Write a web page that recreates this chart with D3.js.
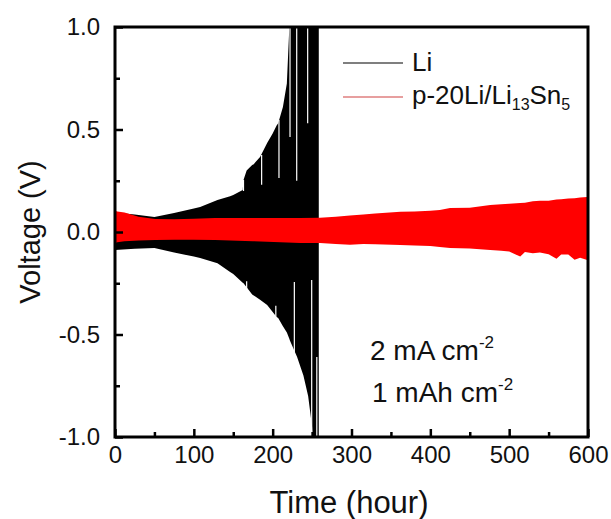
<!DOCTYPE html>
<html>
<head>
<meta charset="utf-8">
<script src="https://cdn.jsdelivr.net/npm/d3@7"></script>
<style>
  html, body { margin: 0; padding: 0; background: #fff; }
  svg { display: block; font-family: "Liberation Sans", Arial, sans-serif; }
</style>
</head>
<body>
<svg id="chart" width="611" height="519"></svg>
<script>
// ---------------- data ----------------
const xTicks = [0, 100, 200, 300, 400, 500, 600];
const xMinorTicks = [50, 150, 250, 350, 450, 550];
const yTicks = [-1.0, -0.5, 0.0, 0.5, 1.0];
const yMinorTicks = [-0.75, -0.25, 0.25, 0.75];

// Li symmetric cell: envelope of voltage oscillation (V) vs time (h)
const liTime  = [0, 25, 50, 75, 100, 108, 130, 146, 150, 162, 163, 167, 174, 176, 178, 184, 193, 200, 205, 207, 213, 218, 221, 222, 231, 239, 245, 250, 252, 258.5];
const liUpper = [0.095, 0.085, 0.073, 0.093, 0.115, 0.122, 0.156, 0.175, 0.18, 0.205, 0.254, 0.30, 0.327, 0.33, 0.34, 0.366, 0.434, 0.48, 0.52, 0.53, 0.61, 0.725, 0.985, 1.1, 1.1, 1.1, 1.1, 1.1, 1.1, 1.1];
const liLower = [-0.088, -0.082, -0.078, -0.10, -0.12, -0.127, -0.152, -0.195, -0.205, -0.247, -0.25, -0.27, -0.305, -0.31, -0.315, -0.33, -0.356, -0.39, -0.415, -0.42, -0.46, -0.49, -0.52, -0.53, -0.61, -0.70, -0.80, -0.95, -1.1, -1.1];
// gaps between Li cycles (time, from V, to V)
const liGapTime = [163, 186, 208, 222, 230.5, 244.4, 167, 204, 227.5, 249.5, 256];
const liGapFrom = [0.20, 0.23, 0.263, 0.463, 0.25, 0.53, -0.29, -0.43, -0.688, -1.05, -1.05];
const liGapTo   = [0.254, 0.376, 0.546, 1.05, 1.05, 1.05, -0.24, -0.36, -0.244, -0.234, -0.61];

// p-20Li/Li13Sn5 cell envelope
const pTime  = [0, 3, 12, 30, 51, 75, 100, 127, 175, 235, 260, 280, 298, 315, 330, 362, 380, 400, 412, 425, 450, 476, 490, 500, 514, 520, 530, 539, 550, 560, 566, 575, 583, 590, 599];
const pUpper = [0.104, 0.10, 0.095, 0.075, 0.063, 0.062, 0.065, 0.068, 0.068, 0.068, 0.070, 0.074, 0.080, 0.085, 0.090, 0.099, 0.100, 0.104, 0.107, 0.117, 0.118, 0.132, 0.135, 0.138, 0.141, 0.143, 0.150, 0.153, 0.152, 0.158, 0.160, 0.163, 0.165, 0.168, 0.171];
const pLower = [-0.054, -0.05, -0.045, -0.042, -0.039, -0.038, -0.038, -0.039, -0.045, -0.054, -0.054, -0.058, -0.062, -0.058, -0.06, -0.063, -0.066, -0.068, -0.073, -0.078, -0.08, -0.088, -0.092, -0.095, -0.12, -0.098, -0.104, -0.10, -0.108, -0.13, -0.11, -0.11, -0.135, -0.125, -0.137];

const seriesNames = ["Li", "p-20Li/Li13Sn5"];
const seriesColors = ["#000000", "#ff0000"];

// ---------------- layout ----------------
const svg = d3.select("#chart");
const L = 115, R = 588, T = 27, B = 437;
const x = d3.scaleLinear().domain([0, 600]).range([L, R]);
const y = d3.scaleLinear().domain([-1, 1]).range([B, T]);

svg.append("defs").append("clipPath").attr("id", "clip")
  .append("rect").attr("x", L).attr("y", T).attr("width", R - L).attr("height", B - T);

const plot = svg.append("g").attr("clip-path", "url(#clip)");

const liData = liTime.map((t, i) => ({t, hi: liUpper[i], lo: liLower[i]}));
const pData = pTime.map((t, i) => ({t, hi: pUpper[i], lo: pLower[i]}));

const area = d3.area().x(d => x(d.t)).y0(d => y(d.lo)).y1(d => y(d.hi));

plot.append("path").datum(liData).attr("d", area).attr("fill", seriesColors[0]);

plot.selectAll("line.gap").data(liGapTime.map((t, i) => ({t, a: liGapFrom[i], b: liGapTo[i]})))
  .enter().append("line").attr("class", "gap")
  .attr("x1", d => x(d.t)).attr("x2", d => x(d.t))
  .attr("y1", d => y(d.a)).attr("y2", d => y(d.b))
  .attr("stroke", "#fff").attr("stroke-width", 1.2);

plot.append("path").datum(pData).attr("d", area).attr("fill", seriesColors[1]);

// ---------------- axes ----------------
const fs = 24;
const xAxis = svg.append("g").attr("transform", `translate(0,${B})`)
  .call(d3.axisBottom(x).tickValues(xTicks).tickSize(-8).tickPadding(9).tickFormat(d3.format("d")));
const xMinor = svg.append("g").attr("transform", `translate(0,${B})`)
  .call(d3.axisBottom(x).tickValues(xMinorTicks).tickSize(-5).tickFormat(""));
const yAxis = svg.append("g").attr("transform", `translate(${L},0)`)
  .call(d3.axisLeft(y).tickValues(yTicks).tickSize(-8).tickPadding(15).tickFormat(d3.format(".1f")));
const yMinor = svg.append("g").attr("transform", `translate(${L},0)`)
  .call(d3.axisLeft(y).tickValues(yMinorTicks).tickSize(-5).tickFormat(""));

[xAxis, xMinor, yAxis, yMinor].forEach(g => {
  g.select(".domain").remove();
  g.selectAll(".tick line").attr("stroke", "#000").attr("stroke-width", 2.5);
  g.selectAll(".tick text").attr("font-size", fs).attr("fill", "#111")
    .attr("font-family", "Liberation Sans, Arial, sans-serif");
});
yAxis.selectAll(".tick text").text(d => d3.format(".1f")(d).replace("−", "-"));

// frame
svg.append("rect").attr("x", L).attr("y", T).attr("width", R - L).attr("height", B - T)
  .attr("fill", "none").attr("stroke", "#000").attr("stroke-width", 3);

// axis titles
svg.append("text").attr("x", 349).attr("y", 513).attr("text-anchor", "middle")
  .attr("font-size", 31).attr("fill", "#111").text("Time (hour)");
svg.append("text").attr("transform", `translate(40,${(T + B) / 2}) rotate(-90)`)
  .attr("text-anchor", "middle").attr("font-size", 29).attr("fill", "#111").text("Voltage (V)");

// legend
const lg = svg.append("g");
lg.append("line").attr("x1", 343).attr("x2", 403).attr("y1", 63).attr("y2", 63)
  .attr("stroke", seriesColors[0]).attr("stroke-width", 1.2);
lg.append("text").attr("x", 412).attr("y", 71).attr("font-size", 26).attr("fill", "#111").text(seriesNames[0]);
lg.append("line").attr("x1", 343).attr("x2", 403).attr("y1", 97).attr("y2", 97)
  .attr("stroke", "#d04040").attr("stroke-width", 1.2);
const t2 = lg.append("text").attr("x", 412).attr("y", 104).attr("font-size", 26).attr("fill", "#111");
t2.append("tspan").text("p-20Li/Li");
t2.append("tspan").attr("font-size", 16).attr("dy", 6).text("13");
t2.append("tspan").attr("dy", -6).text("Sn");
t2.append("tspan").attr("font-size", 16).attr("dy", 6).text("5");

// annotation
const a1 = svg.append("text").attr("x", 370).attr("y", 360).attr("font-size", 28).attr("fill", "#111");
a1.append("tspan").text("2 mA cm");
a1.append("tspan").attr("font-size", 17).attr("dy", -12).text("-2");
const a2 = svg.append("text").attr("x", 372).attr("y", 402).attr("font-size", 28).attr("fill", "#111");
a2.append("tspan").text("1 mAh cm");
a2.append("tspan").attr("font-size", 17).attr("dy", -12).text("-2");
</script>
</body>
</html>
